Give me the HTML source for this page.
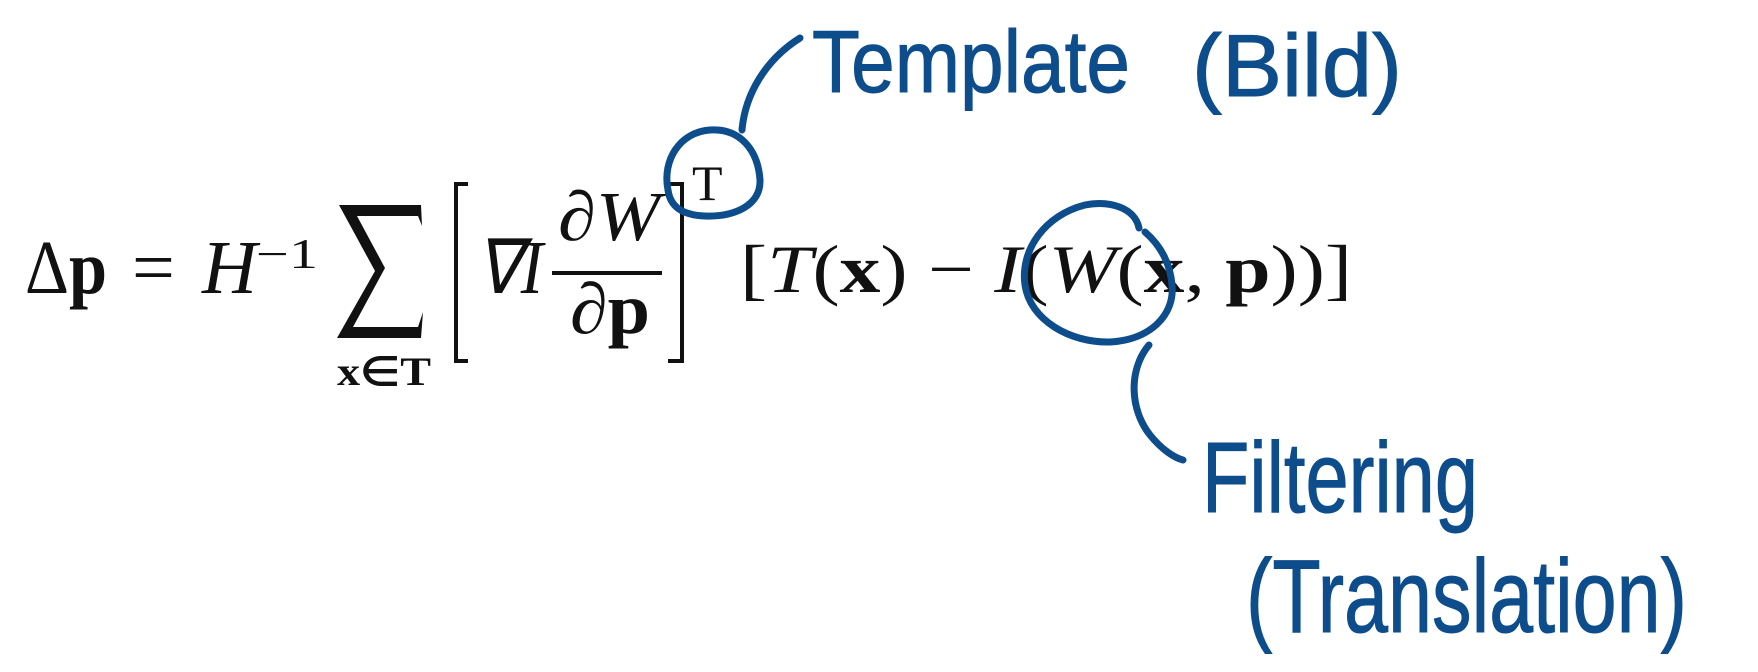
<!DOCTYPE html>
<html><head><meta charset="utf-8"><style>
html,body{margin:0;padding:0;background:#fff;}
svg{display:block}
.m{font-family:"Liberation Serif",serif;fill:#111}
.h{font-family:"Liberation Sans Narrow","Liberation Sans","DejaVu Sans",sans-serif;fill:#0e4d8c;stroke:#0e4d8c;stroke-width:1}
</style></head><body>
<svg width="1758" height="672" viewBox="0 0 1758 672">
<g>
<text class="m" x="25" y="293" font-size="76" textLength="82" lengthAdjust="spacingAndGlyphs">Δ<tspan font-weight="bold">p</tspan></text>
<text class="m" x="132" y="293" font-size="76">=</text>
<text class="m" x="202" y="293" font-size="76" font-style="italic">H</text>
<text class="m" x="256" y="268" font-size="42" textLength="62" lengthAdjust="spacingAndGlyphs">−1</text>
<path d="M339,205 L421,205 L422,226 L418,216 L357,216 L385,268 L353,327 L418,327 L423,312 L421,338 L337,338 L375,271 Z" fill="#111"/>
<text class="m" x="337" y="385" font-size="40" font-weight="bold" textLength="94" lengthAdjust="spacingAndGlyphs">x∈T</text>
<path d="M468,184 L456,184 L456,361 L468,361" stroke="#111" stroke-width="4" fill="none"/>
<text class="m" x="476" y="293" font-size="76" font-style="italic" textLength="67" lengthAdjust="spacingAndGlyphs">∇I</text>
<text class="m" x="558" y="240" font-size="70" font-style="italic" textLength="102" lengthAdjust="spacingAndGlyphs">∂W</text>
<line x1="552" y1="273" x2="662" y2="273" stroke="#111" stroke-width="4"/>
<text class="m" x="570" y="333" font-size="72" textLength="80" lengthAdjust="spacingAndGlyphs"><tspan font-style="italic">∂</tspan><tspan font-weight="bold">p</tspan></text>
<path d="M668,184 L682,184 L682,361 L668,361" stroke="#111" stroke-width="4" fill="none"/>
<text class="m" x="692" y="200" font-size="50">T</text>
<text class="m" x="740" y="292" font-size="68" textLength="612" lengthAdjust="spacingAndGlyphs">[<tspan font-style="italic">T</tspan>(<tspan font-weight="bold">x</tspan>)  − <tspan font-style="italic">I</tspan>(<tspan font-style="italic">W</tspan>(<tspan font-weight="bold">x</tspan>, <tspan font-weight="bold">p</tspan>))]</text>
</g>
<g fill="none" stroke="#0e4d8c" stroke-width="7" stroke-linecap="round">
<path d="M668,190 C662,160 680,132 710,130 C740,128 758,150 760,180 C761,205 735,217 705,216 C680,215 670,205 668,190"/>
<path d="M742,130 C745,95 765,60 800,38"/>
<path d="M1139,228 C1135,208 1110,200 1085,205 C1045,215 1020,250 1025,285 C1030,320 1070,343 1110,342 C1150,340 1175,315 1172,285 C1170,262 1160,245 1145,232"/>
<path d="M1149,345 C1128,370 1130,410 1150,435 C1162,450 1175,458 1183,460"/>
</g>
<text class="h" x="812" y="92" font-size="88" textLength="318" lengthAdjust="spacingAndGlyphs">Template</text>
<text class="h" x="1192" y="96" font-size="88" textLength="210" lengthAdjust="spacingAndGlyphs">(Bild)</text>
<text class="h" x="1202" y="512" font-size="100" textLength="276" lengthAdjust="spacingAndGlyphs">Filtering</text>
<text class="h" x="1246" y="632" font-size="104" textLength="441" lengthAdjust="spacingAndGlyphs">(Translation)</text>
</svg>
</body></html>
